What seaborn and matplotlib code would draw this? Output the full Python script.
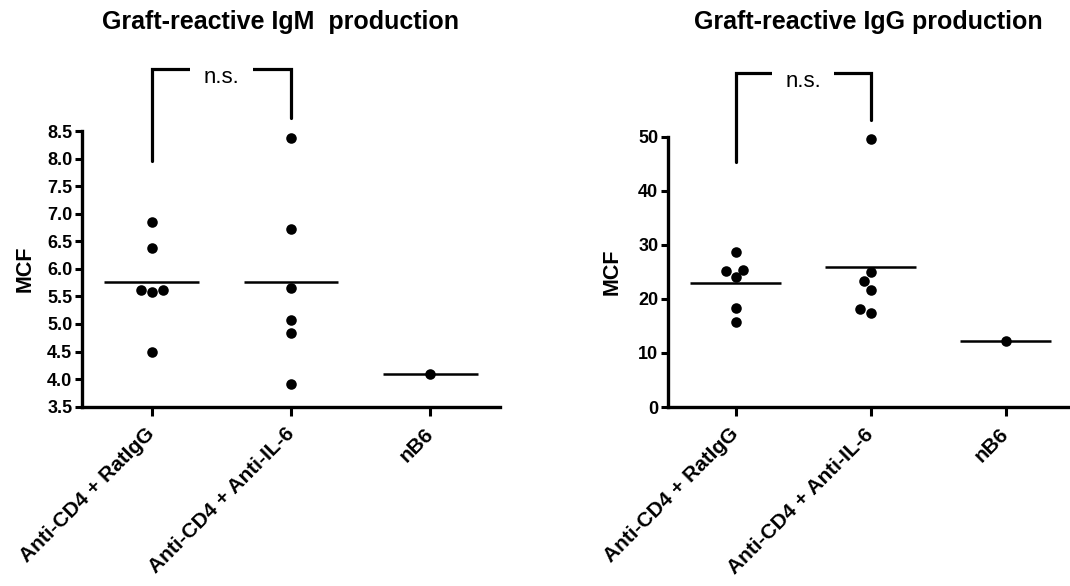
import matplotlib
matplotlib.use("Agg")
import matplotlib.pyplot as plt
import numpy as np
import pandas as pd
import seaborn as sns

# ---------------- data ----------------
groups = ["Anti-CD4 + RatIgG", "Anti-CD4 + Anti-IL-6", "nB6"]

igm_ratigg = [6.85, 6.38, 5.62, 5.58, 5.62, 4.50]
igm_antiil6 = [8.38, 6.72, 5.65, 5.08, 4.83, 3.92]
igm_nb6 = [4.10]

igg_ratigg = [28.7, 25.1, 24.0, 25.4, 18.4, 15.8]
igg_antiil6 = [49.5, 24.9, 23.3, 21.7, 17.4, 18.1]
igg_nb6 = [12.3]

igm_ticks = [3.5, 4.0, 4.5, 5.0, 5.5, 6.0, 6.5, 7.0, 7.5, 8.0, 8.5]
igg_ticks = [0, 10, 20, 30, 40, 50]

titles = ["Graft-reactive IgM  production", "Graft-reactive IgG production"]
ylabel = "MCF"
sig_label = "n.s."


def long_df(a, b, c):
    return pd.DataFrame({
        "group": [groups[0]] * len(a) + [groups[1]] * len(b) + [groups[2]] * len(c),
        "value": list(a) + list(b) + list(c),
    })


df_igm = long_df(igm_ratigg, igm_antiil6, igm_nb6)
df_igg = long_df(igg_ratigg, igg_antiil6, igg_nb6)

# ---------------- style ----------------
sns.set_style("ticks")
plt.rcParams["font.family"] = ["Liberation Sans", "DejaVu Sans"]
for k in ["text.color", "axes.labelcolor", "xtick.color", "ytick.color", "axes.edgecolor"]:
    plt.rcParams[k] = "black"

fig = plt.figure(figsize=(10.70, 5.86), dpi=100)
ax1 = fig.add_axes([82 / 1070, 1 - 406.7 / 586, 418 / 1070, 275.7 / 586])
ax2 = fig.add_axes([668 / 1070, 1 - 407 / 586, 405 / 1070, 270.3 / 586])


def panel(ax, df, ticks, fmt, br_left, br_right, br_top, txt_y, title, tx):
    sns.boxplot(
        data=df, x="group", y="value", order=groups, ax=ax, width=0.68,
        showmeans=True, meanline=True, showbox=False, showcaps=False,
        showfliers=False, whiskerprops={"linewidth": 0},
        medianprops={"linewidth": 0},
        meanprops={"color": "black", "linestyle": "-", "linewidth": 1.8},
    )
    sns.swarmplot(
        data=df, x="group", y="value", order=groups, ax=ax,
        color="black", size=7.6, linewidth=0, zorder=3,
    )
    for coll in ax.collections:
        coll.set_clip_on(False)
    ax.set_xlim(-0.5, 2.5)
    ax.set_ylim(ticks[0], ticks[-1])
    ax.set_yticks(ticks)
    ax.set_yticklabels([fmt.format(t) for t in ticks])
    sns.despine(ax=ax)
    for s in ["left", "bottom"]:
        ax.spines[s].set_linewidth(2.4)
        ax.spines[s].set_color("black")
        ax.spines[s].set_capstyle("projecting")
    ax.tick_params(axis="y", length=5, width=2.2, pad=2, labelsize=13, colors="black")
    ax.tick_params(axis="x", length=6.5, width=2.2, pad=11, labelsize=15, colors="black")
    for lab in ax.get_yticklabels():
        lab.set_fontweight("bold")
    for lab in ax.get_xticklabels():
        lab.set_fontweight("bold")
        lab.set_rotation(45)
        lab.set_ha("right")
        lab.set_va("center")
        lab.set_rotation_mode("anchor")
    ax.set_xlabel("")
    ax.set_ylabel(ylabel, fontsize=15.5, fontweight="bold")
    ax.yaxis.set_label_coords(-0.112, 0.5)
    # significance bracket
    ax.plot([0, 0, 1, 1], [br_left, br_top, br_top, br_right], color="black",
            lw=2.3, clip_on=False, solid_joinstyle="miter", zorder=4)
    ax.text(0.5, txt_y, sig_label, ha="center", va="baseline", fontsize=16,
            color="black",
            bbox=dict(boxstyle="square,pad=0.6", fc="white", ec="none"),
            clip_on=False, zorder=5)
    fig.text(tx, 1 - 22 / 586, title, ha="center", va="center",
             fontsize=18, fontweight="bold", color="black")


panel(ax1, df_igm, igm_ticks, "{:.1f}", 7.95, 8.74, 9.62, 9.37, titles[0], 280 / 1070)
panel(ax2, df_igg, igg_ticks, "{:.0f}", 45.3, 53.1, 61.8, 59.2, titles[1], 868 / 1070)

fig.savefig("out.png", dpi=100, facecolor="white")
